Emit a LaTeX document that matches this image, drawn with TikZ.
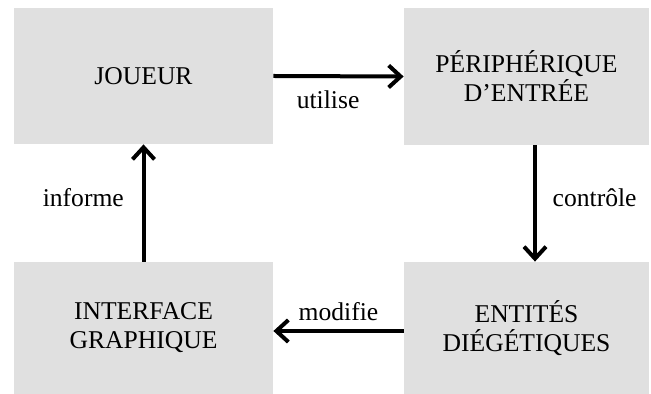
\documentclass[tikz,border=0pt]{standalone}
\usepackage{fontspec}
\setmainfont{Liberation Serif}
\usepackage{tikz}
\usetikzlibrary{arrows.meta}
\definecolor{boxgray}{RGB}{224,224,224}
\tikzset{box/.style={fill=boxgray, inner sep=0pt, align=center},
         link/.style={black, line width=2pt, -{Straight Barb[length=6pt,width=11pt,line width=2pt]}},
         every node/.style={font=\fontsize{12.8}{14.5}\selectfont}}

\begin{document}
\begin{tikzpicture}[x=0.5pt,y=-0.5pt]
   \useasboundingbox (0,0) rectangle (651,394);
   \node[box, minimum width=129.5pt, minimum height=68pt]   (joueur)    at (143.5, 76.0) {JOUEUR};
   \node[box, minimum width=122.5pt, minimum height=68.5pt] (entree)    at (526.5, 76.5) {PÉRIPHÉRIQUE\\D’ENTRÉE};
   \node[box, minimum width=122.5pt, minimum height=66pt]   (entites)   at (526.5,328.0) {ENTITÉS\\DIÉGÉTIQUES};
   \node[box, minimum width=129.5pt, minimum height=66pt]   (interface) at (143.5,328.0) {INTERFACE\\GRAPHIQUE};
   \draw[link] (joueur.east) -- node[pos=.42, below=3pt] {utilise} (entree.west);
   \draw[link] ([xshift=4.25pt]entree.south) -- node[pos=.45, right=4.5pt] {contrôle} ([xshift=4.25pt]entites.north);
   \draw[link] ([yshift=-1.5pt]entites.west) -- node[above=1pt] {modifie} ([yshift=-1.5pt]interface.east);
   \draw[link] (interface.north) -- node[pos=.55, left=5.5pt] {informe} (joueur.south);
  \end{tikzpicture}
\end{document}
